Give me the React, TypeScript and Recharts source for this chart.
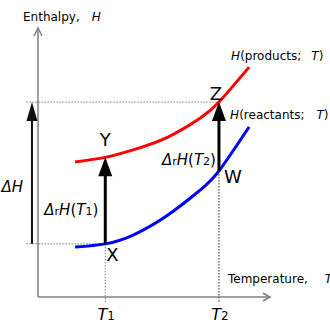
import React from "react";
import { LineChart, Line, XAxis, YAxis, ReferenceLine, ReferenceDot } from "recharts";

// temperature (arbitrary units) and the two enthalpy curves
const temps = [16, 29, 41, 56, 70, 78, 91];
const productH = [50.6, 52.3, 55.1, 59.9, 67.0, 73.0, 86.1];
const reactantH = [18.7, 19.9, 23.2, 30.7, 40.1, 47.2, 63.7];
const tempTicks = [29, 78];
const tempTickSubs = ["1", "2"];
const deltaHx = -2.6;
const guideLeft = -5;
const guideBelow = -2.3;

const FONT = "DejaVu Sans";
const data = temps.map((t, i) => ({ t, products: productH[i], reactants: reactantH[i] }));
const i1 = temps.indexOf(tempTicks[0]);
const i2 = temps.indexOf(tempTicks[1]);
const last = temps.length - 1;

function solidArrow(width: number, headW: number, headL: number, color: string) {
  return (p: any) => {
    const x = p.x1;
    const top = Math.min(p.y1, p.y2);
    const bottom = Math.max(p.y1, p.y2);
    return (
      <g>
        <line x1={x} x2={x} y1={bottom} y2={top + headL - 1} stroke={color} strokeWidth={width} />
        <polygon points={`${x},${top} ${x - headW / 2},${top + headL} ${x + headW / 2},${top + headL}`} fill={color} />
      </g>
    );
  };
}

const axisColor = "#808080";
const yAxisShape = (p: any) => {
  const x = p.x1;
  const top = Math.min(p.y1, p.y2);
  const bottom = Math.max(p.y1, p.y2);
  return (
    <g fill="none" stroke={axisColor} strokeWidth={1.5}>
      <line x1={x} x2={x} y1={bottom} y2={top - 2} />
      <polyline points={`${x - 4},${top + 6} ${x},${top - 2} ${x + 4},${top + 6}`} />
    </g>
  );
};
const xAxisShape = (p: any) => {
  const y = p.y1;
  const left = Math.min(p.x1, p.x2);
  const right = Math.max(p.x1, p.x2);
  return (
    <g fill="none" stroke={axisColor} strokeWidth={1.5}>
      <line x1={left} x2={right} y1={y} y2={y} />
      <polyline points={`${right - 7},${y - 4} ${right},${y} ${right - 7},${y + 4}`} />
    </g>
  );
};

function label(content: React.ReactNode, dx: number, dy: number, anchor = "start", size = 12) {
  return (p: any) => (
    <text x={p.cx + dx} y={p.cy + dy} textAnchor={anchor} fontFamily={FONT} fontSize={size} fill="#000">
      {content}
    </text>
  );
}

const it = (s: string) => <tspan fontStyle="italic">{s}</tspan>;

const drH = (sub: string) => (
  <>
    {it("Δ")}
    <tspan fontSize={11}>r</tspan>
    {it("H")}(
    {it("T")}
    <tspan fontSize={11}>{sub}</tspan>)
  </>
);

const TempTick = (p: any) => {
  const i = tempTicks.indexOf(p.payload.value);
  return (
    <text x={p.x + 1} y={p.y + 23} textAnchor="middle" fontFamily={FONT} fontSize={16} fill="#000">
      <tspan fontStyle="italic">T</tspan>
      <tspan fontSize={12}>{tempTickSubs[i]}</tspan>
    </text>
  );
};

export default function App() {
  return (
    <div style={{ position: "fixed", left: 0, top: 0, width: 330, height: 330, background: "#fff" }}>
      <LineChart width={330} height={330} data={data} margin={{ top: 30, right: 60, left: 38, bottom: 0 }}>
        <XAxis
          dataKey="t"
          type="number"
          domain={[0, 100]}
          ticks={tempTicks}
          tick={<TempTick />}
          axisLine={false}
          tickLine={false}
          tickSize={0}
          tickMargin={0}
          height={33}
        />
        <YAxis type="number" domain={[0, 100]} hide />

        {/* dotted guides */}
        <ReferenceLine
          segment={[{ x: guideLeft, y: productH[i2] }, { x: tempTicks[1], y: productH[i2] }]}
          stroke="#777"
          strokeDasharray="1.5 1.5"
          ifOverflow="visible"
        />
        <ReferenceLine
          segment={[{ x: guideLeft, y: reactantH[i1] }, { x: tempTicks[0], y: reactantH[i1] }]}
          stroke="#777"
          strokeDasharray="1.5 1.5"
          ifOverflow="visible"
        />
        <ReferenceLine
          segment={[{ x: tempTicks[0], y: reactantH[i1] }, { x: tempTicks[0], y: guideBelow }]}
          stroke="#777"
          strokeDasharray="1.5 1.5"
          ifOverflow="visible"
        />
        <ReferenceLine
          segment={[{ x: tempTicks[1], y: productH[i2] }, { x: tempTicks[1], y: guideBelow }]}
          stroke="#222"
          strokeDasharray="1.5 1.5"
          ifOverflow="visible"
        />

        {/* axes with open arrowheads */}
        <ReferenceLine segment={[{ x: 0, y: 0 }, { x: 0, y: 100 }]} shape={yAxisShape} ifOverflow="visible" />
        <ReferenceLine segment={[{ x: 0, y: 0 }, { x: 100, y: 0 }]} shape={xAxisShape} ifOverflow="visible" />

        <Line type="natural" dataKey="products" stroke="#ff0000" strokeWidth={3} dot={false} isAnimationActive={false} />
        <Line type="natural" dataKey="reactants" stroke="#0000ff" strokeWidth={3} dot={false} isAnimationActive={false} />

        {/* arrows */}
        <ReferenceLine
          segment={[{ x: deltaHx, y: reactantH[i1] }, { x: deltaHx, y: productH[i2] }]}
          shape={solidArrow(2, 11, 19, "#111")}
          ifOverflow="visible"
        />
        <ReferenceLine
          segment={[{ x: tempTicks[0], y: reactantH[i1] }, { x: tempTicks[0], y: productH[i1] }]}
          shape={solidArrow(3, 14, 19, "#000")}
          ifOverflow="visible"
        />
        <ReferenceLine
          segment={[{ x: tempTicks[1], y: reactantH[i2] }, { x: tempTicks[1], y: productH[i2] }]}
          shape={solidArrow(3, 14, 19, "#000")}
          ifOverflow="visible"
        />

        {/* text */}
        <ReferenceDot x={0} y={100} r={0} ifOverflow="visible" shape={label(<>Enthalpy,<tspan dx={12} fontStyle="italic">H</tspan></>, -15, -9)} />
        <ReferenceDot x={100} y={0} r={0} ifOverflow="visible" shape={label(<>Temperature,<tspan dx={17} fontStyle="italic">T</tspan></>, -42, -14)} />
        <ReferenceDot x={temps[last]} y={productH[last]} r={0} ifOverflow="visible" shape={label(<>{it("H")}(products;<tspan dx={10} fontStyle="italic">T</tspan>)</>, -18, -7)} />
        <ReferenceDot x={temps[last]} y={reactantH[last]} r={0} ifOverflow="visible" shape={label(<>{it("H")}(reactants;<tspan dx={12} fontStyle="italic">T</tspan>)</>, -19, -8)} />
        <ReferenceDot x={tempTicks[0]} y={productH[i1]} r={0} ifOverflow="visible" shape={label("Y", 0, -11, "middle", 18)} />
        <ReferenceDot x={tempTicks[1]} y={productH[i2]} r={0} ifOverflow="visible" shape={label("Z", -3, -2, "middle", 18)} />
        <ReferenceDot x={tempTicks[0]} y={reactantH[i1]} r={0} ifOverflow="visible" shape={label("X", 1, 17, "start", 18)} />
        <ReferenceDot x={tempTicks[1]} y={reactantH[i2]} r={0} ifOverflow="visible" shape={label("W", 5, 12, "start", 18)} />
        <ReferenceDot x={tempTicks[0]} y={reactantH[i1]} r={0} ifOverflow="visible" shape={label(drH("1"), -7, -29, "end", 15)} />
        <ReferenceDot x={tempTicks[1]} y={reactantH[i2]} r={0} ifOverflow="visible" shape={label(drH("2"), -3, -6, "end", 15)} />
        <ReferenceDot x={deltaHx} y={reactantH[i1]} r={0} ifOverflow="visible" shape={label(<>{it("Δ")}{it("H")}</>, -9, -52, "end", 15)} />
      </LineChart>
    </div>
  );
}
